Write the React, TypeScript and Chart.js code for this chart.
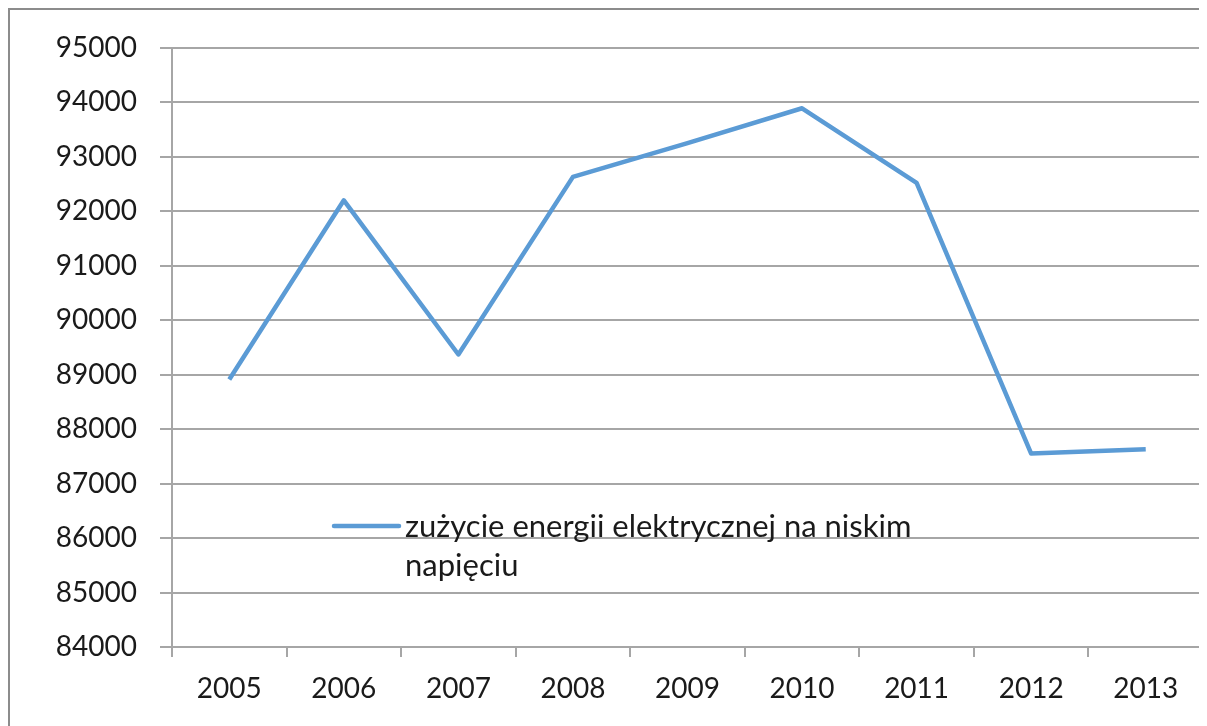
import React, { useEffect, useRef } from "react";
import { Chart, registerables } from "chart.js";

Chart.register(...registerables);

const categories = ["2005", "2006", "2007", "2008", "2009", "2010", "2011", "2012", "2013"];
const seriesLabel = "zużycie energii elektrycznej na niskim napięciu";
const legendLines = ["zużycie energii elektrycznej na niskim", "napięciu"];
const seriesValues = [88910, 92200, 89370, 92630, 93250, 93890, 92520, 87550, 87630];
const yMin = 84000;
const yMax = 95000;
const yStep = 1000;

const FONT = "Lato, 'Open Sans', sans-serif";
const LINE_COLOR = "#5b9bd5";
const GRID_COLOR = "#a6a6a6";

const framePlugin = {
  id: "frame",
  beforeDraw(chart: any) {
    const ctx = chart.ctx;
    ctx.save();
    ctx.strokeStyle = "#8c8c8c";
    ctx.lineWidth = 2;
    ctx.beginPath();
    ctx.moveTo(1, chart.height);
    ctx.lineTo(1, 1);
    ctx.lineTo(chart.width, 1);
    ctx.stroke();
    ctx.restore();
  },
};

const legendPlugin = {
  id: "innerLegend",
  afterDraw(chart: any) {
    const ctx = chart.ctx;
    ctx.save();
    ctx.strokeStyle = LINE_COLOR;
    ctx.lineWidth = 4.5;
    ctx.lineCap = "round";
    ctx.beginPath();
    ctx.moveTo(326, 518);
    ctx.lineTo(391, 518);
    ctx.stroke();
    ctx.fillStyle = "#1a1a1a";
    ctx.font = `31px ${FONT}`;
    ctx.textBaseline = "alphabetic";
    ctx.textAlign = "left";
    ctx.fillText(legendLines[0], 397, 529);
    ctx.fillText(legendLines[1], 397, 568);
    ctx.restore();
  },
};

export default function App() {
  const ref = useRef<HTMLCanvasElement>(null);
  useEffect(() => {
    if (!ref.current) return;
    const chart = new Chart(ref.current, {
      type: "line",
      data: {
        labels: categories,
        datasets: [
          {
            label: seriesLabel,
            data: seriesValues,
            borderColor: LINE_COLOR,
            backgroundColor: LINE_COLOR,
            borderWidth: 4.5,
            pointRadius: 0,
            tension: 0,
            borderJoinStyle: "round",
          },
        ],
      },
      options: {
        responsive: false,
        animation: false,
        layout: { padding: { top: 38, right: 4, left: 0, bottom: 0 } },
        plugins: {
          legend: { display: false },
          tooltip: { enabled: false },
        },
        scales: {
          x: {
            offset: true,
            grid: {
              display: true,
              drawOnChartArea: false,
              drawTicks: true,
              tickLength: 10,
              color: GRID_COLOR,
              lineWidth: 2,
              offset: true,
            },
            border: { display: true, color: GRID_COLOR, width: 2 },
            ticks: {
              color: "#1a1a1a",
              font: { family: FONT, size: 28 },
              padding: 15,
              maxRotation: 0,
            },
            afterFit(scale: any) {
              scale.height = 79;
            },
          },
          y: {
            min: yMin,
            max: yMax,
            grid: {
              color: GRID_COLOR,
              lineWidth: 2,
              tickLength: 12,
            },
            border: { display: true, color: GRID_COLOR, width: 2 },
            ticks: {
              stepSize: yStep,
              color: "#1a1a1a",
              font: { family: FONT, size: 28 },
              padding: 23,
              callback: (v: any) => String(v),
            },
            afterFit(scale: any) {
              scale.width = 164;
            },
          },
        },
      },
      plugins: [framePlugin, legendPlugin],
    });
    return () => chart.destroy();
  }, []);
  return (
    <div style={{ width: 1199, height: 718 }}>
      <canvas ref={ref} width={1199} height={718} style={{ display: "block" }} />
    </div>
  );
}
